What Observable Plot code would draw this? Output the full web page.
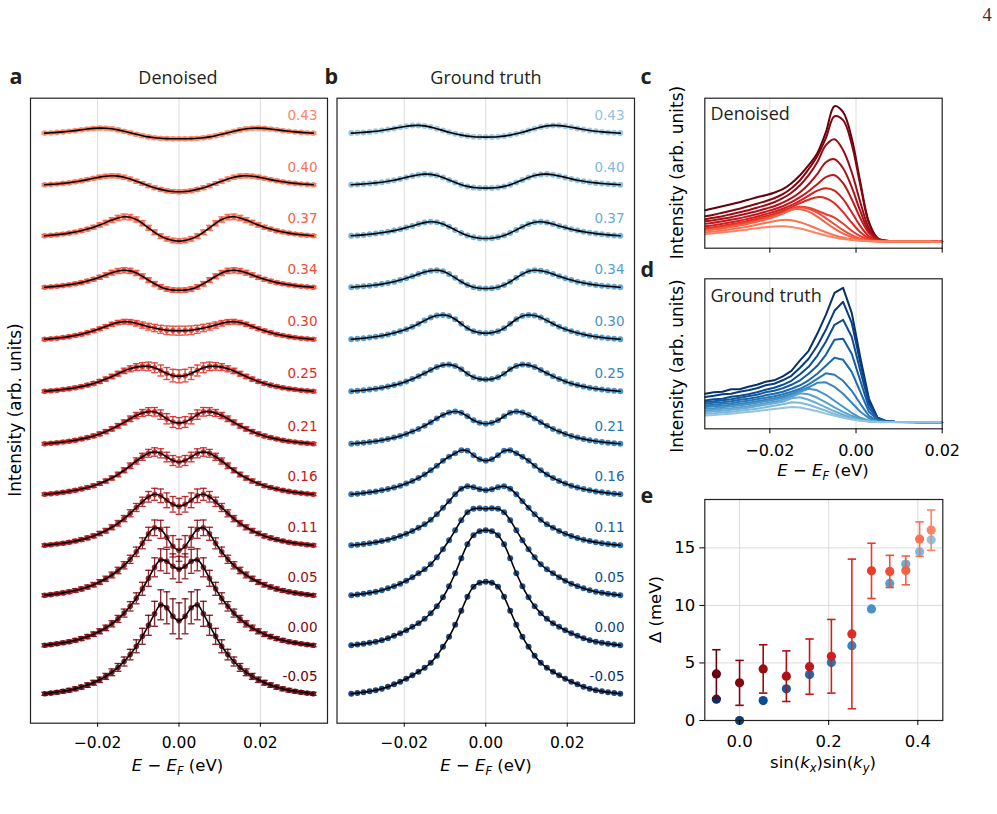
<!DOCTYPE html>
<html>
<head>
<meta charset="utf-8">
<script src="https://cdn.jsdelivr.net/npm/d3@7"></script>
<script src="https://cdn.jsdelivr.net/npm/@observablehq/plot@0.6"></script>
<style>
  html, body { margin: 0; padding: 0; background: #fff; }
  #fig { position: relative; width: 997px; height: 814px; overflow: hidden; background: #fff; }
  #fig svg { position: absolute; overflow: visible; }
</style>
</head>
<body>
<div id="fig"></div>
<script>
// ---------------- DATA ----------------
// Energy grid of the symmetrized EDCs (panels a, b), eV
const energyAB = [-0.033,-0.0315,-0.03,-0.0285,-0.027,-0.0255,-0.024,-0.0225,-0.021,-0.0195,-0.018,-0.0165,-0.015,-0.0135,-0.012,-0.0105,-0.009,-0.0075,-0.006,-0.0045,-0.003,-0.0015,0,0.0015,0.003,0.0045,0.006,0.0075,0.009,0.0105,0.012,0.0135,0.015,0.0165,0.018,0.0195,0.021,0.0225,0.024,0.0255,0.027,0.0285,0.03,0.0315,0.033];
const rowLabels = ["-0.05","0.00","0.05","0.11","0.16","0.21","0.25","0.30","0.34","0.37","0.40","0.43"];
const rowOffset = [0,48.5,98.5,148.5,199.5,250,302.5,354.5,406.5,458,509,560.7];
const xTicksAB = [-0.02, 0, 0.02];

// Panel a: denoised symmetrized EDCs (arb. units, relative to row offset)
const den_n05 = [0,0.7,1.5,2.5,3.6,5,6.7,8.7,11.1,14,17.4,21.5,26.4,32.3,39.2,47.5,57.5,68.5,80,89,86,77.5,73,77.5,86,89,80,68.5,57.5,47.5,39.2,32.3,26.4,21.5,17.4,14,11.1,8.7,6.7,5,3.6,2.5,1.5,0.7,0];
const den_00 = [0,0.7,1.5,2.5,3.6,5,6.7,8.7,11.1,14,17.4,21.5,26.4,32.2,39,47,56.5,67,78,85.5,84,79,76,79,84,85.5,78,67,56.5,47,39,32.2,26.4,21.5,17.4,14,11.1,8.7,6.7,5,3.6,2.5,1.5,0.7,0];
const den_05 = [0,0.7,1.5,2.4,3.5,4.8,6.4,8.3,10.6,13.3,16.5,20.3,24.8,30,36,43.5,52,61.5,67.5,66,58,49,45,49,58,66,67.5,61.5,52,43.5,36,30,24.8,20.3,16.5,13.3,10.6,8.3,6.4,4.8,3.5,2.4,1.5,0.7,0];
const den_11 = [0,0.6,1.3,2.1,3.1,4.3,5.7,7.4,9.4,11.8,14.6,18,22,26.7,32,37.8,43.5,48.5,51,49.5,45,41,39,41,45,49.5,51,48.5,43.5,37.8,32,26.7,22,18,14.6,11.8,9.4,7.4,5.7,4.3,3.1,2.1,1.3,0.6,0];
const den_16 = [0,0.6,1.2,2,2.9,4,5.3,6.8,8.6,10.8,13.3,16.3,19.8,24,28.5,33.3,37.5,41,42.3,41,37.3,33.8,32.3,33.8,37.3,41,42.3,41,37.5,33.3,28.5,24,19.8,16.3,13.3,10.8,8.6,6.8,5.3,4,2.9,2,1.2,0.6,0];
const den_21 = [0,0.5,1.1,1.8,2.6,3.6,4.8,6.2,7.9,9.9,12.2,14.9,18,21.4,25,28.3,30.8,32.2,32,29.2,25,21.8,20.7,21.8,25,29.2,32,32.2,30.8,28.3,25,21.4,18,14.9,12.2,9.9,7.9,6.2,4.8,3.6,2.6,1.8,1.1,0.5,0];
const den_25 = [0,0.5,1.1,1.8,2.6,3.6,4.8,6.2,7.9,9.9,12.2,14.8,17.6,20.4,22.5,24.2,24.9,24.9,23.5,20.8,17.8,15.7,15,15.7,17.8,20.8,23.5,24.9,24.9,24.2,22.5,20.4,17.6,14.8,12.2,9.9,7.9,6.2,4.8,3.6,2.6,1.8,1.1,0.5,0];
const den_30 = [0,0.5,1.1,1.8,2.7,3.8,5.1,6.7,8.5,10.6,12.8,15,16.8,17.6,17.3,16,14.2,12.6,11.3,10,9.1,8.7,8.6,8.7,9.1,10,11.3,12.6,14.2,16,17.3,17.6,16.8,15,12.8,10.6,8.5,6.7,5.1,3.8,2.7,1.8,1.1,0.5,0];
const den_34 = [0,0.5,1,1.7,2.5,3.5,4.7,6.2,8,10,12.3,14.6,16.3,17,16.4,14.3,11,7.2,3.5,0.4,-1.7,-2.8,-3,-2.8,-1.7,0.4,3.5,7.2,11,14.3,16.4,17,16.3,14.6,12.3,10,8,6.2,4.7,3.5,2.5,1.7,1,0.5,0];
const den_37 = [0,0.5,1.1,1.8,2.7,3.8,5.1,6.7,8.6,10.8,13.2,15.7,17.8,19,18.6,16.3,12.5,8,3.5,-0.3,-3,-4.7,-5.3,-4.7,-3,-0.3,3.5,8,12.5,16.3,18.6,19,17.8,15.7,13.2,10.8,8.6,6.7,5.1,3.8,2.7,1.8,1.1,0.5,0];
const den_40 = [0,0.4,0.8,1.4,2.1,3,4,5.2,6.5,7.7,8.6,9,8.7,7.6,5.8,3.6,1.3,-0.9,-2.9,-4.6,-5.9,-6.7,-7,-6.7,-5.9,-4.6,-2.9,-0.9,1.3,3.6,5.8,7.6,8.7,9,8.6,7.7,6.5,5.2,4,3,2.1,1.4,0.8,0.4,0];
const den_43 = [0,0.3,0.7,1.2,1.8,2.5,3.3,4.1,4.7,5,4.9,4.3,3.2,1.8,0.3,-1.2,-2.6,-3.8,-4.7,-5.2,-5.5,-5.7,-5.7,-5.7,-5.5,-5.2,-4.7,-3.8,-2.6,-1.2,0.3,1.8,3.2,4.3,4.9,5,4.7,4.1,3.3,2.5,1.8,1.2,0.7,0.3,0];

// Panel a: error bars (half-lengths, same units)
const err_n05 = [1.5,1.5,1.6,1.7,1.8,1.9,2,2.2,2.4,2.7,3,3.4,3.9,4.5,5.3,6.5,8,10,12.5,15,16,17.5,18,17.5,16,15,12.5,10,8,6.5,5.3,4.5,3.9,3.4,3,2.7,2.4,2.2,2,1.9,1.8,1.7,1.6,1.5,1.5];
const err_00 = [1.5,1.5,1.5,1.6,1.7,1.8,1.9,2.1,2.3,2.5,2.8,3.1,3.5,4,4.7,5.5,6.5,8,9.5,11,12,12.5,13,12.5,12,11,9.5,8,6.5,5.5,4.7,4,3.5,3.1,2.8,2.5,2.3,2.1,1.9,1.8,1.7,1.6,1.5,1.5,1.5];
const err_05 = [1.5,1.5,1.5,1.6,1.7,1.8,1.9,2,2.2,2.4,2.6,2.9,3.2,3.6,4.1,4.7,5.5,6.5,7.8,9,10,10.7,11,10.7,10,9,7.8,6.5,5.5,4.7,4.1,3.6,3.2,2.9,2.6,2.4,2.2,2,1.9,1.8,1.7,1.6,1.5,1.5,1.5];
const err_11 = [1.4,1.4,1.4,1.5,1.5,1.6,1.7,1.8,1.9,2.1,2.3,2.5,2.8,3.1,3.5,4,4.6,5.3,6,6.8,7.4,7.8,8,7.8,7.4,6.8,6,5.3,4.6,4,3.5,3.1,2.8,2.5,2.3,2.1,1.9,1.8,1.7,1.6,1.5,1.5,1.4,1.4,1.4];
const err_16 = [1.3,1.3,1.3,1.4,1.4,1.5,1.5,1.6,1.7,1.8,2,2.1,2.3,2.5,2.8,3.1,3.5,3.9,4.2,4.5,4.8,5,5,5,4.8,4.5,4.2,3.9,3.5,3.1,2.8,2.5,2.3,2.1,2,1.8,1.7,1.6,1.5,1.5,1.4,1.4,1.3,1.3,1.3];
const err_21 = [1.3,1.3,1.3,1.4,1.4,1.5,1.5,1.6,1.7,1.8,2,2.1,2.3,2.5,2.8,3.1,3.5,3.9,4.3,4.7,5.1,5.4,5.5,5.4,5.1,4.7,4.3,3.9,3.5,3.1,2.8,2.5,2.3,2.1,2,1.8,1.7,1.6,1.5,1.5,1.4,1.4,1.3,1.3,1.3];
const err_25 = [1.3,1.3,1.3,1.4,1.4,1.5,1.5,1.6,1.7,1.8,2,2.2,2.4,2.7,3,3.4,3.8,4.3,4.9,5.5,6,6.3,6.5,6.3,6,5.5,4.9,4.3,3.8,3.4,3,2.7,2.4,2.2,2,1.8,1.7,1.6,1.5,1.5,1.4,1.4,1.3,1.3,1.3];
const err_30 = [1.3,1.3,1.3,1.3,1.4,1.4,1.5,1.5,1.6,1.7,1.8,2,2.1,2.3,2.5,2.8,3.1,3.4,3.7,4,4.3,4.4,4.5,4.4,4.3,4,3.7,3.4,3.1,2.8,2.5,2.3,2.1,2,1.8,1.7,1.6,1.5,1.5,1.4,1.4,1.3,1.3,1.3,1.3];
const err_34 = [1.2,1.2,1.3,1.3,1.4,1.5,1.6,1.7,1.8,2,2.2,2.4,2.6,2.7,2.7,2.6,2.5,2.4,2.3,2.2,2.2,2.2,2.2,2.2,2.2,2.2,2.3,2.4,2.5,2.6,2.7,2.7,2.6,2.4,2.2,2,1.8,1.7,1.6,1.5,1.4,1.3,1.3,1.2,1.2];
const err_37 = [1.2,1.2,1.3,1.3,1.4,1.5,1.6,1.7,1.9,2.1,2.3,2.5,2.7,2.8,2.8,2.7,2.6,2.5,2.4,2.3,2.3,2.3,2.3,2.3,2.3,2.3,2.4,2.5,2.6,2.7,2.8,2.8,2.7,2.5,2.3,2.1,1.9,1.7,1.6,1.5,1.4,1.3,1.3,1.2,1.2];
const err_40 = [1.1,1.1,1.2,1.2,1.3,1.4,1.5,1.6,1.7,1.8,1.9,2,2,2,1.9,1.9,1.8,1.8,1.8,1.8,1.8,1.8,1.8,1.8,1.8,1.8,1.8,1.8,1.8,1.9,1.9,2,2,2,1.9,1.8,1.7,1.6,1.5,1.4,1.3,1.2,1.2,1.1,1.1];
const err_43 = [1,1,1.1,1.1,1.2,1.3,1.4,1.5,1.6,1.7,1.7,1.7,1.7,1.6,1.6,1.6,1.6,1.6,1.6,1.6,1.6,1.6,1.6,1.6,1.6,1.6,1.6,1.6,1.6,1.6,1.6,1.6,1.7,1.7,1.7,1.7,1.6,1.5,1.4,1.3,1.2,1.1,1.1,1,1];

// Panel b: ground-truth symmetrized EDCs
const truth_n05 = [0,0.7,1.5,2.5,3.5,5,7,9.5,12,15,18.5,22,26,31,38,47,57,69,83,97,107,111,112,111,107,97,83,69,57,47,38,31,26,22,18.5,15,12,9.5,7,5,3.5,2.5,1.5,0.7,0];
const truth_00 = [0,0.7,1.5,2.5,3.5,5,7,9.5,12,15,18.5,22,26.5,32,39,48,59,72,87,101,110,114,115,114,110,101,87,72,59,48,39,32,26.5,22,18.5,15,12,9.5,7,5,3.5,2.5,1.5,0.7,0];
const truth_05 = [0,0.7,1.5,2.5,3.5,5,7,9,11.5,14.5,18,22,26,31,38,46,55,65,75,83,86.5,87,86.5,87,86.5,83,75,65,55,46,38,31,26,22,18,14.5,11.5,9,7,5,3.5,2.5,1.5,0.7,0];
const truth_11 = [0,0.6,1.3,2,3,4.2,5.6,7.3,9.3,11.6,14.3,17.5,21,25.5,31,37.5,44,51,56.5,59,58,56,55,56,58,59,56.5,51,44,37.5,31,25.5,21,17.5,14.3,11.6,9.3,7.3,5.6,4.2,3,2,1.3,0.6,0];
const truth_16 = [0,0.6,1.2,2,2.9,4,5.3,6.8,8.6,10.8,13.3,16.3,19.8,24,28.5,33.5,37.5,41,44,43.5,39,35,33.5,35,39,43.5,44,41,37.5,33.5,28.5,24,19.8,16.3,13.3,10.8,8.6,6.8,5.3,4,2.9,2,1.2,0.6,0];
const truth_21 = [0,0.5,1.1,1.8,2.6,3.6,4.8,6.2,7.9,9.9,12.2,14.9,18,21.5,25.3,28.8,31.3,32.3,31,27.5,23.5,21,20,21,23.5,27.5,31,32.3,31.3,28.8,25.3,21.5,18,14.9,12.2,9.9,7.9,6.2,4.8,3.6,2.6,1.8,1.1,0.5,0];
const truth_25 = [0,0.5,1.1,1.8,2.6,3.6,4.8,6.2,7.9,9.9,12.3,15,18,21.3,24.2,26.2,26.7,25.3,22,17.5,14,12.2,11.7,12.2,14,17.5,22,25.3,26.7,26.2,24.2,21.3,18,15,12.3,9.9,7.9,6.2,4.8,3.6,2.6,1.8,1.1,0.5,0];
const truth_30 = [0,0.5,1.1,1.8,2.6,3.6,4.8,6.2,8,10,12.5,15.5,18.7,21.8,23.8,24.3,23.2,20,15.5,11,8,6.5,6,6.5,8,11,15.5,20,23.2,24.3,23.8,21.8,18.7,15.5,12.5,10,8,6.2,4.8,3.6,2.6,1.8,1.1,0.5,0];
const truth_34 = [0,0.5,1,1.6,2.3,3.2,4.3,5.6,7.2,9,11,13.2,15.2,16.6,17,16,13.2,9.5,5.5,2.2,0,-1,-1.2,-1,0,2.2,5.5,9.5,13.2,16,17,16.6,15.2,13.2,11,9,7.2,5.6,4.3,3.2,2.3,1.6,1,0.5,0];
const truth_37 = [0,0.4,0.9,1.5,2.2,3,4,5.2,6.6,8.2,9.9,11.7,13.2,14,13.6,11.8,9,5.8,2.8,0.3,-1.5,-2.5,-2.7,-2.5,-1.5,0.3,2.8,5.8,9,11.8,13.6,14,13.2,11.7,9.9,8.2,6.6,5.2,4,3,2.2,1.5,0.9,0.4,0];
const truth_40 = [0,0.4,0.8,1.3,1.9,2.6,3.5,4.6,5.9,7.4,8.8,10,10.7,10.4,9.2,7.2,4.8,2.3,0.1,-1.6,-2.7,-3.2,-3.3,-3.2,-2.7,-1.6,0.1,2.3,4.8,7.2,9.2,10.4,10.7,10,8.8,7.4,5.9,4.6,3.5,2.6,1.9,1.3,0.8,0.4,0];
const truth_43 = [0,0.3,0.7,1.2,1.8,2.6,3.6,4.7,5.9,6.9,7.5,7.7,7.2,6,4.4,2.6,0.8,-0.7,-2,-3,-3.6,-3.9,-4,-3.9,-3.6,-3,-2,-0.7,0.8,2.6,4.4,6,7.2,7.7,7.5,6.9,5.9,4.7,3.6,2.6,1.8,1.2,0.7,0.3,0];

// Panels c, d: raw EDCs (energy grid, eV)
const energyCD = [-0.035,-0.033,-0.031,-0.029,-0.027,-0.025,-0.023,-0.021,-0.019,-0.017,-0.015,-0.013,-0.011,-0.009,-0.007,-0.005,-0.003,-0.001,0.001,0.003,0.005,0.007,0.009,0.011,0.013,0.015,0.017,0.019,0.020];
const edcTicks = [-0.02, 0, 0.02];
const denEdc_n05 = [32,34,36,38,40,42.5,45,47,49.5,53,59,67,77,89,110,136,130,104,60,20,4,1.5,1,0.9,0.8,0.7,0.6,0.5,0.5];
const denEdc_00 = [26,27.5,29.5,31.5,33.5,36,38.5,41,44,48,54,62,73,86,104,126,122,98,57,19,4,1.5,1,0.9,0.8,0.7,0.6,0.5,0.5];
const denEdc_05 = [23,24.5,26,28,30,32,34.5,37,40,44,49.5,57,67,80,97,103,92,70,40,14,3.5,1.5,1,0.8,0.7,0.6,0.6,0.5,0.5];
const denEdc_11 = [21,22,23.5,25,27,29,31,33.5,36,39.5,44,50,58,68,80,83,74,55,31,11,3,1.3,1,0.8,0.7,0.6,0.6,0.5,0.5];
const denEdc_16 = [18.5,19.5,21,22.5,24,26,28,30.5,33,36,40,45,51,58,65,67,59,43,24,9,2.5,1.2,0.9,0.8,0.7,0.6,0.6,0.5,0.5];
const denEdc_21 = [16,17,18.5,20,21.5,23.5,25.5,28,30.5,33.5,37,41.5,46.5,51.5,54,51.5,43,30,16,6,2,1,0.8,0.7,0.7,0.6,0.6,0.5,0.5];
const denEdc_25 = [14,15,16.5,18,19.5,21.5,23.5,26,28.5,31.5,35,39,42.5,45,44,39,30,19.5,10,4,1.5,0.9,0.8,0.7,0.7,0.6,0.6,0.5,0.5];
const denEdc_30 = [13.3,14.3,15.5,17,18.5,20.3,22.3,24.5,27,30,33.5,35.5,34.5,31.5,28,24.5,18.5,11.5,6,2.5,1.2,0.8,0.7,0.7,0.6,0.6,0.6,0.5,0.5];
const denEdc_34 = [12.3,13.3,14.5,16,17.5,19.3,21.3,23.5,26,29,32.5,34.8,33.5,29.5,24,18,12,7,3.5,1.8,1,0.8,0.7,0.7,0.6,0.6,0.6,0.5,0.5];
const denEdc_37 = [11.7,12.7,13.8,15.2,16.7,18.5,20.5,22.7,25.2,28.5,32.5,33,30.5,25.5,19.5,13.5,8.5,5,2.7,1.5,1,0.8,0.7,0.7,0.6,0.6,0.6,0.5,0.5];
const denEdc_40 = [10,10.8,11.8,13,14.3,15.8,17.5,19.3,21,22.3,22,20,17,13.5,10,7,4.7,3,1.8,1.2,0.9,0.7,0.7,0.6,0.6,0.6,0.6,0.5,0.5];
const denEdc_43 = [8.3,9,9.8,10.7,11.7,12.8,14,15,15.8,16,15.3,13.7,11.5,9,6.7,4.7,3.2,2.1,1.4,1,0.8,0.7,0.7,0.6,0.6,0.6,0.6,0.5,0.5];

const truthEdc_n05 = [29,30.5,31,33.5,33.5,36,38,41,42.5,46.5,52,62.5,72,89,108,130,135,110,65,24,5,1.5,1,0.8,0.7,0.6,0.6,0.5,0.5];
const truthEdc_00 = [25.7,27,28.5,29,31,32.5,34.5,37.5,39,42.5,47,55,64,77,93,112,121,100,60,22,5,1.5,1,0.8,0.7,0.6,0.6,0.5,0.5];
const truthEdc_05 = [22.3,23.5,24,26,27,28.5,30.5,33,35,38,42,48.5,56,67,81,98,103,86,52,19,4.5,1.5,1,0.8,0.7,0.6,0.6,0.5,0.5];
const truthEdc_11 = [20.7,21.5,22.5,23.5,25,26.5,28,30.5,32,34.5,38,42.5,49,57,68,83,84,69,42,15,4,1.4,1,0.8,0.7,0.6,0.6,0.5,0.5];
const truthEdc_16 = [19,20,20.5,21.5,23,24,25.5,27.5,29,31,34,37.5,42.5,49,57,65,63,51,31,11,3,1.3,0.9,0.8,0.7,0.6,0.6,0.5,0.5];
const truthEdc_21 = [17.3,18,19,19.5,21,22,23.5,25,26.5,28.5,31,34,38.5,44,49.5,48,42,32,19,7,2,1,0.8,0.7,0.7,0.6,0.6,0.5,0.5];
const truthEdc_25 = [15.7,16.5,17,18,19,20,21.5,23,24.5,26.5,29,32,35.5,40,40.5,36,29,20,11,4.5,1.5,0.9,0.8,0.7,0.7,0.6,0.6,0.5,0.5];
const truthEdc_30 = [14,14.5,15.5,16.5,17.5,18.5,20,21.5,23,25,27.5,31,34,32.5,28,22,16,10,5,2,1,0.8,0.7,0.7,0.6,0.6,0.6,0.5,0.5];
const truthEdc_34 = [12.3,13,14,14.5,15.5,16.5,18,19.5,21,23,26,29.5,28.5,25,20.5,15.5,11,7,3.8,1.8,1,0.8,0.7,0.7,0.6,0.6,0.6,0.5,0.5];
const truthEdc_37 = [10.7,11.5,12,13,14,15,16.5,18,19.5,21,24.5,25.5,23,19.5,15.5,11.5,8,5,2.8,1.5,0.9,0.8,0.7,0.7,0.6,0.6,0.6,0.5,0.5];
const truthEdc_40 = [9,9.5,10.3,11,12,13,14,15.5,17,18.5,20.5,20,18,15,12,8.8,6,4,2.3,1.3,0.9,0.7,0.7,0.6,0.6,0.6,0.6,0.5,0.5];
const truthEdc_43 = [7.3,7.8,8.5,9,10,10.8,11.7,12.8,13.8,14.8,15.7,15.2,13.6,11.5,9.2,7,5,3.3,2,1.2,0.8,0.7,0.6,0.6,0.6,0.6,0.6,0.5,0.5];

// Panel e: gap vs sin(kx)sin(ky)
const kValues = [-0.052,0.0,0.053,0.105,0.157,0.206,0.252,0.296,0.337,0.373,0.404,0.430];
const gapDenoised = [4.05,3.27,4.48,3.85,4.68,5.58,7.52,13.0,12.95,13.04,15.76,16.54];
const gapDenoisedErr = [2.1,1.95,2.1,2.2,2.4,3.2,6.5,2.4,1.4,1.25,1.5,1.75];
const gapTruth = [1.85,0,1.73,2.75,3.99,5.03,6.5,9.69,11.91,13.59,14.66,15.7];
const eXTicks = [0, 0.2, 0.4];
const eYTicks = [0, 5, 10, 15];

const denoisedRows = [den_n05,den_00,den_05,den_11,den_16,den_21,den_25,den_30,den_34,den_37,den_40,den_43];
const denoisedErr = [err_n05,err_00,err_05,err_11,err_16,err_21,err_25,err_30,err_34,err_37,err_40,err_43];
const truthRows = [truth_n05,truth_00,truth_05,truth_11,truth_16,truth_21,truth_25,truth_30,truth_34,truth_37,truth_40,truth_43];
const denEdcRows = [denEdc_n05,denEdc_00,denEdc_05,denEdc_11,denEdc_16,denEdc_21,denEdc_25,denEdc_30,denEdc_34,denEdc_37,denEdc_40,denEdc_43];
const truthEdcRows = [truthEdc_n05,truthEdc_00,truthEdc_05,truthEdc_11,truthEdc_16,truthEdc_21,truthEdc_25,truthEdc_30,truthEdc_34,truthEdc_37,truthEdc_40,truthEdc_43];

// ---------------- STYLE HELPERS ----------------
const fig = document.getElementById("fig");
function place(svg, left, top) {
  svg.style.position = "absolute";
  svg.style.left = left + "px";
  svg.style.top = top + "px";
  svg.style.background = "none";
  svg.style.overflow = "visible";
  svg.style.maxWidth = "none";
  fig.appendChild(svg);
}
const redOf = i => d3.interpolateReds(1 - 0.58 * i / 11);
const blueOf = i => d3.interpolateBlues(1 - 0.6 * i / 11);
const capMark = { draw(ctx, size) { const w = Math.sqrt(size / Math.PI); ctx.moveTo(-w, 0); ctx.lineTo(w, 0); } };
const fmt2 = d3.format(".2f");
const fmt1 = d3.format(".1f");
const baseStyle = fs => ({fontFamily: "DejaVu Sans", fontSize: fs + "px", color: "#000", background: "none", overflow: "visible"});
const gridColor = "#dcdcdc";
const frameColor = "#222";

const denPts = denoisedRows.flatMap((arr, i) => arr.map((v, j) => ({
  row: i, E: energyAB[j], y: rowOffset[i] + v,
  lo: rowOffset[i] + v - denoisedErr[i][j], hi: rowOffset[i] + v + denoisedErr[i][j], c: redOf(i)
})));
const truPts = truthRows.flatMap((arr, i) => arr.map((v, j) => ({row: i, E: energyAB[j], y: rowOffset[i] + v, c: blueOf(i)})));
const rowIdx = rowLabels.map((_, i) => i);
const denEdcPts = denEdcRows.flatMap((arr, i) => arr.map((v, j) => ({row: i, E: energyCD[j], v, c: redOf(i)})));
const truEdcPts = truthEdcRows.flatMap((arr, i) => arr.map((v, j) => ({row: i, E: energyCD[j], v, c: blueOf(i)})));
const gapDen = kValues.map((k, i) => ({k, g: gapDenoised[i], lo: gapDenoised[i] - gapDenoisedErr[i], hi: gapDenoised[i] + gapDenoisedErr[i], c: redOf(i)}));
const gapTru = kValues.map((k, i) => ({k, g: gapTruth[i], c: blueOf(i)}));

// ---------------- PANEL a ----------------
place(Plot.plot({
  width: 330, height: 790, marginLeft: 30, marginRight: 3, marginTop: 97.7, marginBottom: 67.3,
  style: baseStyle(15.5),
  x: {domain: [-0.0365, 0.0365]},
  y: {domain: [-29.4, 595.6], axis: null},
  color: {type: "identity"},
  marks: [
    Plot.gridX(xTicksAB, {stroke: gridColor, strokeOpacity: 1, strokeWidth: 1}),
    Plot.ruleX(denPts, {x: "E", y1: "lo", y2: "hi", stroke: "c", strokeWidth: 1.35, strokeOpacity: 0.85}),
    Plot.dot(denPts, {x: "E", y: "lo", symbol: capMark, r: 3.4, stroke: "c", fill: "none", strokeWidth: 1.35, strokeOpacity: 0.85}),
    Plot.dot(denPts, {x: "E", y: "hi", symbol: capMark, r: 3.4, stroke: "c", fill: "none", strokeWidth: 1.35, strokeOpacity: 0.85}),
    Plot.dot(denPts, {x: "E", y: "y", r: 2.8, fill: "c", fillOpacity: 0.85}),
    Plot.line(denPts, {x: "E", y: "y", z: "row", stroke: "#000", strokeWidth: 1.6, curve: "catmull-rom"}),
    Plot.text(rowIdx, {y: i => rowOffset[i] + 17.5, frameAnchor: "right", dx: -10, text: i => rowLabels[i], fill: i => redOf(i), textAnchor: "end", fontSize: 13.5}),
    Plot.frame({stroke: frameColor, strokeWidth: 1.2}),
    Plot.axisX({ticks: xTicksAB, tickFormat: fmt2, tickSize: 4, tickPadding: 9.5, label: null})
  ]
}), 0, 0);

// ---------------- PANEL b ----------------
place(Plot.plot({
  width: 307, height: 790, marginLeft: 6.5, marginRight: 3, marginTop: 97.7, marginBottom: 67.3,
  style: baseStyle(15.5),
  x: {domain: [-0.0365, 0.0365]},
  y: {domain: [-29.4, 595.6], axis: null},
  color: {type: "identity"},
  marks: [
    Plot.gridX(xTicksAB, {stroke: gridColor, strokeOpacity: 1, strokeWidth: 1}),
    Plot.dot(truPts, {x: "E", y: "y", r: 3, fill: "c", fillOpacity: 0.9}),
    Plot.line(truPts, {x: "E", y: "y", z: "row", stroke: "#000", strokeWidth: 1.6, curve: "catmull-rom"}),
    Plot.text(rowIdx, {y: i => rowOffset[i] + 17.5, frameAnchor: "right", dx: -10, text: i => rowLabels[i], fill: i => blueOf(i), textAnchor: "end", fontSize: 13.5}),
    Plot.frame({stroke: frameColor, strokeWidth: 1.2}),
    Plot.axisX({ticks: xTicksAB, tickFormat: fmt2, tickSize: 4, tickPadding: 9.5, label: null})
  ]
}), 330, 0);

// ---------------- PANEL c ----------------
place(Plot.plot({
  width: 300, height: 260, marginLeft: 44.3, marginRight: 18.3, marginTop: 97.7, marginBottom: 12.3,
  style: baseStyle(16),
  x: {domain: [-0.0351, 0.02]},
  y: {domain: [-6, 144], axis: null},
  color: {type: "identity"},
  marks: [
    Plot.gridX([-0.02, 0], {stroke: gridColor, strokeOpacity: 1, strokeWidth: 1}),
    Plot.line(denEdcPts, {x: "E", y: "v", z: "row", stroke: "c", strokeWidth: 2, curve: "catmull-rom"}),
    Plot.frame({stroke: frameColor, strokeWidth: 1.2}),
    Plot.axisX({ticks: edcTicks, tickFormat: () => "", tickSize: 5, label: null})
  ]
}), 660, 0);

// ---------------- PANEL d ----------------
place(Plot.plot({
  width: 300, height: 220, marginLeft: 44.3, marginRight: 18.3, marginTop: 18.3, marginBottom: 51.7,
  style: baseStyle(16),
  x: {domain: [-0.0351, 0.02]},
  y: {domain: [-6, 144], axis: null},
  color: {type: "identity"},
  marks: [
    Plot.gridX([-0.02, 0], {stroke: gridColor, strokeOpacity: 1, strokeWidth: 1}),
    Plot.line(truEdcPts, {x: "E", y: "v", z: "row", stroke: "c", strokeWidth: 2}),
    Plot.frame({stroke: frameColor, strokeWidth: 1.2}),
    Plot.axisX({ticks: edcTicks, tickFormat: fmt2, tickSize: 5, tickPadding: 11, label: null})
  ]
}), 660, 260);

// ---------------- PANEL e ----------------
place(Plot.plot({
  width: 320, height: 320, marginLeft: 64.3, marginRight: 17.7, marginTop: 29, marginBottom: 70,
  style: baseStyle(16.5),
  x: {domain: [-0.078, 0.456]},
  y: {domain: [0, 19.2]},
  color: {type: "identity"},
  marks: [
    Plot.gridX(eXTicks, {stroke: gridColor, strokeOpacity: 1, strokeWidth: 1}),
    Plot.gridY(eYTicks, {stroke: gridColor, strokeOpacity: 1, strokeWidth: 1}),
    Plot.dot(gapTru, {x: "k", y: "g", r: 4.6, fill: "c"}),
    Plot.ruleX(gapDen, {x: "k", y1: "lo", y2: "hi", stroke: "c", strokeWidth: 1.6}),
    Plot.dot(gapDen, {x: "k", y: "lo", symbol: capMark, r: 4.2, stroke: "c", fill: "none", strokeWidth: 1.6}),
    Plot.dot(gapDen, {x: "k", y: "hi", symbol: capMark, r: 4.2, stroke: "c", fill: "none", strokeWidth: 1.6}),
    Plot.dot(gapDen, {x: "k", y: "g", r: 4.6, fill: "c"}),
    Plot.frame({stroke: frameColor, strokeWidth: 1.2}),
    Plot.axisX({ticks: eXTicks, tickFormat: fmt1, tickSize: 5, tickPadding: 10, label: null}),
    Plot.axisY({ticks: eYTicks, tickFormat: d3.format("d"), tickSize: 5, tickPadding: 4.5, label: null})
  ]
}), 640, 470);

// ---------------- TEXT OVERLAY ----------------
const ov = d3.select(fig).append("svg")
  .attr("width", 997).attr("height", 814)
  .style("position", "absolute").style("left", "0px").style("top", "0px")
  .style("pointer-events", "none");

function txt(x, y, s, o = {}) {
  return ov.append("text").attr("x", x).attr("y", y)
    .attr("font-family", o.family || "DejaVu Sans")
    .attr("font-size", o.size || 16)
    .attr("font-weight", o.weight || "normal")
    .attr("text-anchor", o.anchor || "start")
    .attr("fill", o.fill || "#000")
    .text(s);
}
function rotTxt(cx, cy, s, size) {
  ov.append("text").attr("transform", `translate(${cx},${cy}) rotate(-90)`)
    .attr("text-anchor", "middle").attr("dy", "0.35em")
    .attr("font-family", "DejaVu Sans").attr("font-size", size).attr("fill", "#000").text(s);
}
function energyLabel(cx, y) {
  const t = ov.append("text").attr("x", cx).attr("y", y).attr("text-anchor", "middle")
    .attr("font-family", "DejaVu Sans").attr("font-size", 16.5).attr("fill", "#000");
  t.append("tspan").attr("font-style", "italic").text("E");
  t.append("tspan").text(" \u2212 ");
  t.append("tspan").attr("font-style", "italic").text("E");
  t.append("tspan").attr("font-style", "italic").attr("font-size", 11.5).attr("dy", 4).text("F");
  t.append("tspan").attr("dy", -4).text(" (eV)");
}

txt(987, 21, "4", {family: "Liberation Serif", size: 18.5, anchor: "middle", fill: "#333"});
const panelLetter = {family: "Open Sans", size: 21.5, weight: "bold", fill: "#231f20"};
txt(9.5, 84, "a", panelLetter);
txt(324.5, 84, "b", panelLetter);
txt(640.5, 84, "c", panelLetter);
txt(640.5, 277, "d", panelLetter);
txt(640.5, 503, "e", panelLetter);

const titleFont = {family: "Open Sans", size: 18, anchor: "middle", fill: "#231f20"};
txt(178, 84, "Denoised", titleFont);
txt(486, 84, "Ground truth", titleFont);
txt(710.5, 120, "Denoised", {family: "Open Sans", size: 18, fill: "#231f20"});
txt(710.5, 301.5, "Ground truth", {family: "Open Sans", size: 18, fill: "#231f20"});

rotTxt(15, 410, "Intensity (arb. units)", 17);
rotTxt(677.3, 172.5, "Intensity (arb. units)", 17);
rotTxt(677.3, 366, "Intensity (arb. units)", 17);
rotTxt(655, 609.5, "\u0394 (meV)", 16.5);

energyLabel(177.5, 770.5);
energyLabel(486, 770.5);
energyLabel(823, 475.5);

{
  const t = ov.append("text").attr("x", 823).attr("y", 767.5).attr("text-anchor", "middle")
    .attr("font-family", "DejaVu Sans").attr("font-size", 16.5).attr("fill", "#000");
  t.append("tspan").text("sin(");
  t.append("tspan").attr("font-style", "italic").text("k");
  t.append("tspan").attr("font-style", "italic").attr("font-size", 11.5).attr("dy", 4).text("x");
  t.append("tspan").attr("dy", -4).text(")sin(");
  t.append("tspan").attr("font-style", "italic").text("k");
  t.append("tspan").attr("font-style", "italic").attr("font-size", 11.5).attr("dy", 4).text("y");
  t.append("tspan").attr("dy", -4).text(")");
}
</script>
</body>
</html>
